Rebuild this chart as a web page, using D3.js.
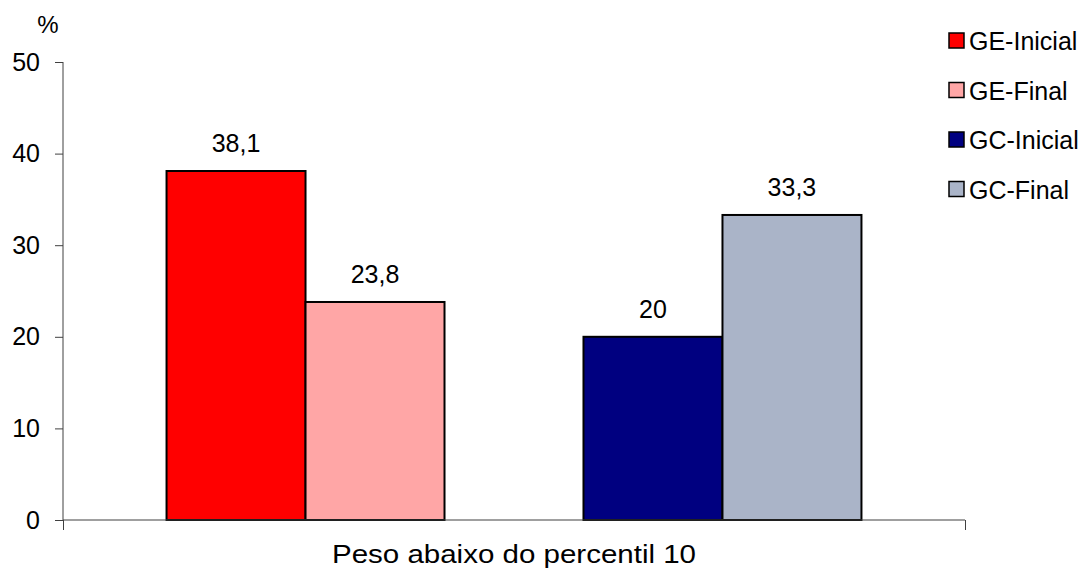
<!DOCTYPE html>
<html>
<head>
<meta charset="utf-8">
<script src="https://cdn.jsdelivr.net/npm/d3@7"></script>
<style>
  body { margin: 0; background: #fff; }
  text { font-family: "Liberation Sans", Arial, sans-serif; fill: #000; }
</style>
</head>
<body>
<div id="chart"></div>
<script>
var categories = ["Peso abaixo do percentil 10"];
var series = ["GE-Inicial", "GE-Final", "GC-Inicial", "GC-Final"];
var values = [38.1, 23.8, 20, 33.3];
var labels = ["38,1", "23,8", "20", "33,3"];
var colors = ["#ff0000", "#ffa6a6", "#000080", "#aab4c8"];
var yTicks = [0, 10, 20, 30, 40, 50];

var chartW = 1084, chartH = 572,
    plotL = 63, plotR = 965, plotT = 62, plotB = 520;

var svg = d3.select("#chart").append("svg")
  .attr("width", chartW)
  .attr("height", chartH);

var y = d3.scaleLinear().domain([0, 50]).range([plotB, plotT]);

// one category; an empty slot sits between the two groups
var x0 = d3.scaleBand().domain(categories).range([plotL, plotR])
  .paddingInner(0).paddingOuter(0.149);
var slots = [series[0], series[1], "", series[2], series[3]];
var x1 = d3.scaleBand().domain(slots).range([0, x0.bandwidth()]);

// y axis
var yAxis = svg.append("g")
  .attr("transform", "translate(" + plotL + ",0)")
  .call(d3.axisLeft(y).tickValues(yTicks).tickSize(8).tickPadding(15).tickFormat(d3.format("d")));
yAxis.select(".domain").attr("stroke", "#404040").attr("d", "M0," + plotT + "V" + plotB);
yAxis.selectAll(".tick line").attr("stroke", "#404040");
yAxis.selectAll("text").attr("font-size", 25).attr("font-family", "Liberation Sans, Arial, sans-serif").attr("fill", "#000");

svg.append("text")
  .attr("x", 48).attr("y", 33)
  .attr("text-anchor", "middle")
  .attr("font-size", 24)
  .text("%");

// bars
var g = svg.append("g").attr("transform", "translate(" + x0(categories[0]) + ",0)");
var bars = g.selectAll("g.bar")
  .data(series)
  .enter().append("g").attr("class", "bar");

bars.append("rect")
  .attr("x", function(d) { return x1(d); })
  .attr("y", function(d, i) { return y(values[i]); })
  .attr("width", x1.bandwidth())
  .attr("height", function(d, i) { return y(0) - y(values[i]); })
  .attr("fill", function(d, i) { return colors[i]; })
  .attr("stroke", "#000")
  .attr("stroke-width", 2);

bars.append("text")
  .attr("x", function(d) { return x1(d) + x1.bandwidth() / 2; })
  .attr("y", function(d, i) { return y(values[i]) - 19; })
  .attr("text-anchor", "middle")
  .attr("font-size", 25)
  .text(function(d, i) { return labels[i]; });

// x axis
var xAxis = svg.append("g")
  .attr("transform", "translate(0," + plotB + ")")
  .call(d3.axisBottom(d3.scaleLinear().domain([0, 1]).range([plotL, plotR])).tickValues([0, 1]).tickSize(10).tickFormat(""));
xAxis.select(".domain").attr("stroke", "#404040").attr("d", "M" + plotL + ",0H" + plotR);
xAxis.selectAll(".tick line").attr("stroke", "#404040");

svg.append("text")
  .attr("x", x0(categories[0]) + x0.bandwidth() / 2)
  .attr("y", 563)
  .attr("text-anchor", "middle")
  .attr("font-size", 26)
  .attr("textLength", 364)
  .attr("lengthAdjust", "spacingAndGlyphs")
  .text(categories[0]);

// legend
var legend = svg.append("g").selectAll("g")
  .data(series)
  .enter().append("g")
  .attr("transform", function(d, i) { return "translate(949," + (33 + i * 49.5) + ")"; });

legend.append("rect")
  .attr("width", 15).attr("height", 15)
  .attr("fill", function(d, i) { return colors[i]; })
  .attr("stroke", "#000")
  .attr("stroke-width", 1.5);

legend.append("text")
  .attr("x", 20).attr("y", 17)
  .attr("font-size", 25)
  .text(function(d) { return d; });
</script>
</body>
</html>
